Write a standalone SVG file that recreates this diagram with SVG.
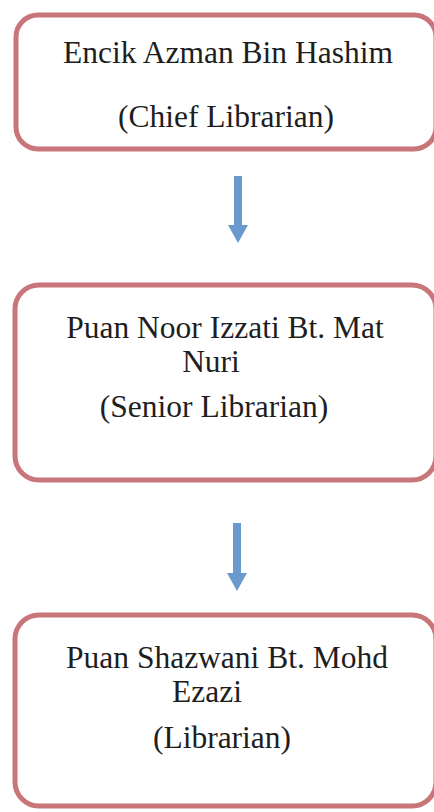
<svg xmlns="http://www.w3.org/2000/svg" width="434" height="812" viewBox="0 0 434 812">
  <style>
    .box { fill: #ffffff; stroke: #c8767a; stroke-width: 5; }
    .label { font-size: 31.5px; fill: #1e1e1e; text-anchor: middle; }
    .arrow { stroke: #6a9acd; stroke-width: 8; fill: none; }
    .head { fill: #6a9acd; }
  </style>
  <rect width="434" height="812" fill="#ffffff"/>

  <g font-family="Liberation Serif, DejaVu Serif, serif">
    <g id="node-chief">
      <rect class="box" x="16" y="15" width="420" height="134" rx="22" ry="22"/>
      <text class="label" x="228" y="63">Encik Azman Bin Hashim</text>
      <text class="label" x="226" y="127">(Chief Librarian)</text>
    </g>

    <g id="node-senior">
      <rect class="box" x="15" y="285" width="421" height="195" rx="24" ry="24"/>
      <text class="label" x="225" y="338">Puan Noor Izzati Bt. Mat</text>
      <text class="label" x="211" y="372">Nuri</text>
      <text class="label" x="214" y="417">(Senior Librarian)</text>
    </g>

    <g id="node-librarian">
      <rect class="box" x="15" y="615" width="421" height="191" rx="24" ry="24"/>
      <text class="label" x="227" y="668">Puan Shazwani Bt. Mohd</text>
      <text class="label" x="207" y="702">Ezazi</text>
      <text class="label" x="222" y="748">(Librarian)</text>
    </g>
  </g>

  <g id="connectors">
    <line class="arrow" x1="238" y1="176" x2="238" y2="226"/>
    <polygon class="head" points="228,225 248,225 238,243"/>
    <line class="arrow" x1="237" y1="523" x2="237" y2="574"/>
    <polygon class="head" points="227,573 247,573 237,591"/>
  </g>
</svg>
